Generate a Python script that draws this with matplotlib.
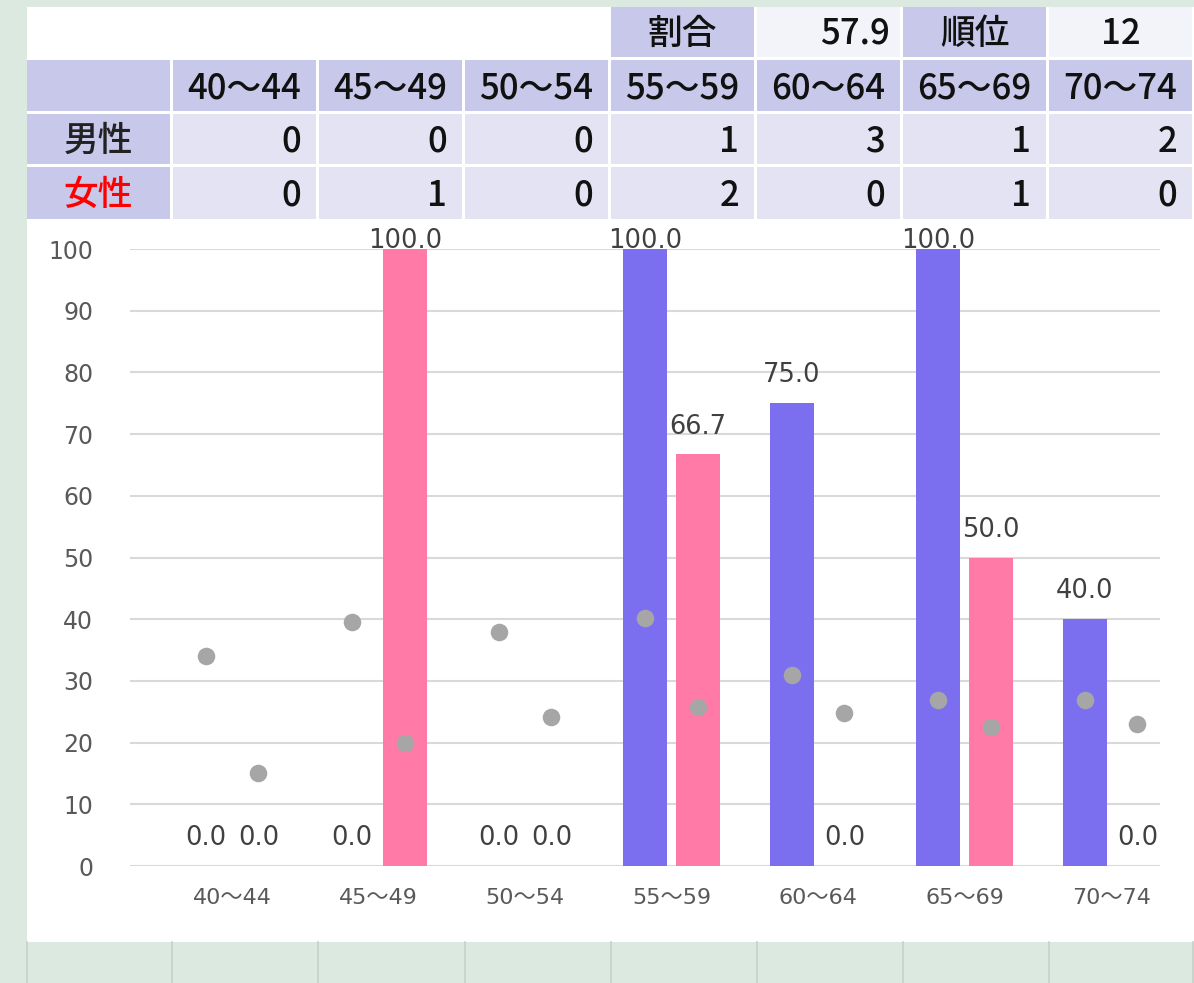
import matplotlib
matplotlib.use("Agg")
import matplotlib.pyplot as plt
from matplotlib.patches import Rectangle
from matplotlib.lines import Line2D
import numpy as np

plt.rcParams['font.family'] = ['Noto Sans CJK JP', 'DejaVu Sans']

# ---- data ----
age_groups = ["40～44", "45～49", "50～54", "55～59", "60～64", "65～69", "70～74"]
male_counts = [0, 0, 0, 1, 3, 1, 2]
female_counts = [0, 1, 0, 2, 0, 1, 0]
male_rate = [0.0, 0.0, 0.0, 100.0, 75.0, 100.0, 40.0]
female_rate = [0.0, 100.0, 0.0, 66.7, 0.0, 50.0, 0.0]
male_avg = [34.0, 39.6, 37.9, 40.2, 31.0, 26.9, 26.9]
female_avg = [15.1, 19.9, 24.2, 25.8, 24.8, 22.5, 23.0]
ratio_label, ratio_value = "割合", "57.9"
rank_label, rank_value = "順位", "12"
row_labels = ["男性", "女性"]

W, H = 1194, 983
fig = plt.figure(figsize=(W / 100, H / 100), dpi=100)
fig.patch.set_facecolor("#dce9e0")

def fx(x):
    return x / W

def fy(y):
    return 1 - y / H

def rect(x0, y0, x1, y1, color, z=-2):
    fig.patches.append(Rectangle((fx(x0), fy(y1)), fx(x1) - fx(x0), fy(y0) - fy(y1),
                                 transform=fig.transFigure, facecolor=color,
                                 edgecolor="none", zorder=z))

# white panel
rect(27, 7, 1194, 942, "white", z=-3)
# bottom spreadsheet cell borders
for xb in [27, 172, 318, 465, 611, 757, 903, 1049, 1193]:
    fig.lines.append(Line2D([fx(xb), fx(xb)], [fy(942), fy(983)], transform=fig.transFigure,
                            color="#c8cfca", lw=1.2, zorder=-2))

HEAD = "#c8c8ea"
CELL = "#e3e3f3"
LIGHT = "#f3f3fa"
TFS = 25
TW = "medium"

col_left = [27] + [173 + 146 * i for i in range(7)]
col_right = [170] + [316 + 146 * i for i in range(7)]
rows = [(7, 57), (60, 111), (114, 164), (167, 219)]

# row 0: ratio & rank
top_items = [(4, ratio_label, HEAD, "center"), (5, ratio_value, LIGHT, "right"),
             (6, rank_label, HEAD, "center"), (7, rank_value, LIGHT, "center")]
for c, txt, col, ha in top_items:
    y0, y1 = rows[0]
    rect(col_left[c], y0, col_right[c], y1, col)
    xt = (col_left[c] + col_right[c]) / 2 if ha == "center" else col_right[c] - 10
    fig.text(fx(xt), fy((y0 + y1) / 2 + 2), txt, ha=ha, va="center", fontsize=TFS,
             fontweight=TW, color="#111111")

# header row
y0, y1 = rows[1]
rect(col_left[0], y0, col_right[0], y1, HEAD)
for i, g in enumerate(age_groups):
    c = i + 1
    rect(col_left[c], y0, col_right[c], y1, HEAD)
    fig.text(fx((col_left[c] + col_right[c]) / 2), fy((y0 + y1) / 2 + 3), g, ha="center",
             va="center", fontsize=TFS, fontweight=TW, color="#111111")

# count rows
for r, (lab, vals, lcol) in enumerate([(row_labels[0], male_counts, "#222222"),
                                       (row_labels[1], female_counts, "#ff0000")]):
    y0, y1 = rows[r + 2]
    rect(col_left[0], y0, col_right[0], y1, HEAD)
    fig.text(fx((col_left[0] + col_right[0]) / 2), fy((y0 + y1) / 2 + 2), lab, ha="center",
             va="center", fontsize=TFS, fontweight=TW, color=lcol)
    for i, v in enumerate(vals):
        c = i + 1
        rect(col_left[c], y0, col_right[c], y1, CELL)
        fig.text(fx(col_right[c] - 15), fy((y0 + y1) / 2 + 3), str(v), ha="right",
                 va="center", fontsize=TFS, fontweight=TW, color="#111111")

# ---- chart ----
CHART_FONT = ['DejaVu Sans', 'Noto Sans CJK JP']
ax = fig.add_axes([fx(130), fy(866), fx(1160) - fx(130), fy(249) - fy(866)])
ax.set_zorder(5)
ax.set_facecolor("none")
x = np.arange(len(age_groups))
off = 0.18
bw = 0.30
MALE_C = "#7b6ff0"
FEMALE_C = "#ff7aa6"
ax.bar(x - off, male_rate, width=bw, color=MALE_C, zorder=2)
ax.bar(x + off, female_rate, width=bw, color=FEMALE_C, zorder=2)
ax.scatter(x - off, male_avg, s=160, color="#a6a6a6", zorder=3, linewidths=0)
ax.scatter(x + off, female_avg, s=160, color="#a6a6a6", zorder=3, linewidths=0)

for xs, vals in [(x - off, male_rate), (x + off, female_rate)]:
    for xi, v in zip(xs, vals):
        ax.text(xi, min(v + 4.5, 101.3), f"{v:.1f}", ha="center", va="center",
                fontsize=18.5, family=CHART_FONT, color="#404040", zorder=4, clip_on=False)

ax.set_xlim(-0.696, 6.334)
ax.set_ylim(0, 100)
ax.set_yticks(np.arange(0, 101, 10))
ax.yaxis.grid(True, color="#d9d9d9", lw=1.5, zorder=0)
ax.set_axisbelow(True)
for s in ax.spines.values():
    s.set_visible(False)
ax.tick_params(axis="both", length=0, colors="#595959")
ax.tick_params(axis="y", labelsize=17, pad=26.5)
for lbl in ax.get_yticklabels():
    lbl.set_family(CHART_FONT)
ax.set_xticks(x)
ax.set_xticklabels(age_groups, fontsize=16, family=CHART_FONT)
ax.tick_params(axis="x", pad=16)

fig.savefig("out.png", dpi=100, facecolor=fig.get_facecolor())
